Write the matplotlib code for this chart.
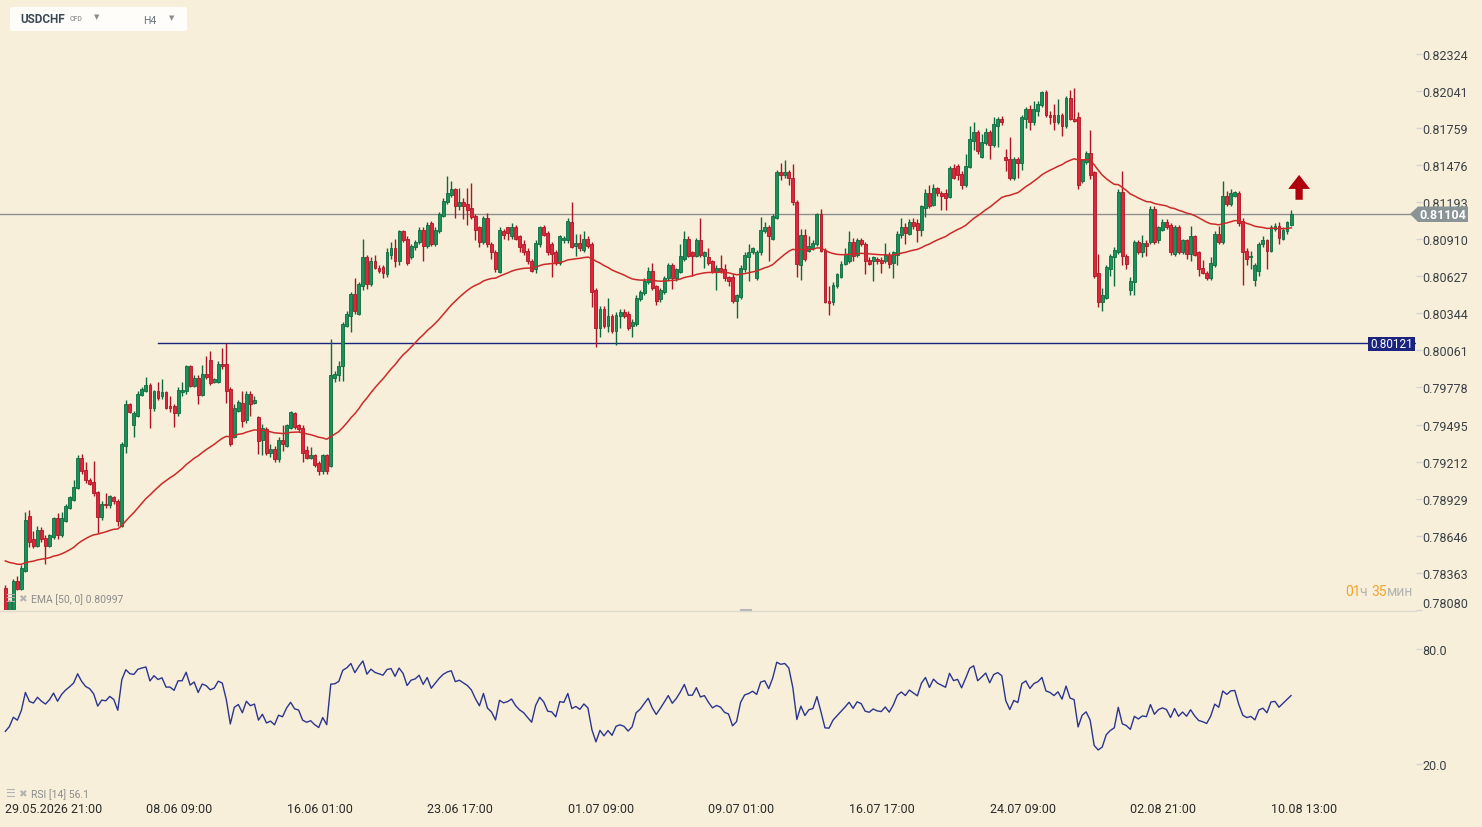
import numpy as np
import pandas as pd
import matplotlib
matplotlib.use('Agg')
import matplotlib.pyplot as plt
from matplotlib.patches import Polygon, Rectangle, FancyBboxPatch
from matplotlib.lines import Line2D

plt.rcParams['font.family'] = ['Roboto', 'DejaVu Sans']

# USDCHF H4 candles, prices in pips (1e-4)
open_p = [
    7825, 7808, 7809, 7830, 7824, 7838, 7880, 7862, 7857, 7869,
    7863, 7857, 7864, 7878, 7865, 7876, 7886, 7892, 7901, 7924,
    7915, 7907, 7906, 7898, 7879, 7889, 7888, 7894, 7891, 7872,
    7933, 7965, 7949, 7956, 7972, 7975, 7980, 7962, 7975, 7971,
    7974, 7964, 7964, 7958, 7974, 7975, 7994, 7979, 7985, 7972,
    7988, 7999, 7982, 7982, 7996, 7996, 7977, 7940, 7960, 7966,
    7953, 7973, 7966, 7955, 7938, 7946, 7928, 7931, 7923, 7938,
    7933, 7947, 7958, 7949, 7947, 7930, 7924, 7926, 7920, 7914,
    7926, 7918, 7985, 7987, 7994, 8025, 8032, 8049, 8034, 8055,
    8077, 8057, 8074, 8069, 8070, 8064, 8079, 8084, 8074, 8097,
    8091, 8077, 8085, 8089, 8098, 8086, 8103, 8087, 8097, 8109,
    8119, 8125, 8129, 8116, 8119, 8118, 8115, 8109, 8100, 8089,
    8107, 8087, 8081, 8066, 8097, 8100, 8093, 8100, 8093, 8087,
    8082, 8074, 8068, 8087, 8100, 8096, 8087, 8081, 8073, 8090,
    8090, 8104, 8086, 8088, 8083, 8091, 8087, 8052, 8023, 8038,
    8025, 8032, 8021, 8032, 8035, 8034, 8025, 8026, 8045, 8050,
    8058, 8067, 8055, 8045, 8051, 8061, 8071, 8061, 8066, 8076,
    8091, 8081, 8078, 8090, 8078, 8077, 8074, 8066, 8069, 8068,
    8062, 8062, 8044, 8047, 8068, 8077, 8081, 8061, 8081, 8097,
    8100, 8091, 8107, 8142, 8140, 8142, 8138, 8119, 8071, 8094,
    8082, 8084, 8087, 8110, 8083, 8044, 8043, 8055, 8062, 8072,
    8074, 8089, 8079, 8090, 8087, 8075, 8074, 8076, 8075, 8074,
    8079, 8073, 8079, 8094, 8100, 8095, 8104, 8103, 8098, 8115,
    8126, 8117, 8130, 8126, 8126, 8123, 8145, 8147, 8141, 8132,
    8146, 8166, 8173, 8154, 8164, 8173, 8163, 8177, 8183, 8154,
    8152, 8138, 8152, 8149, 8183, 8190, 8180, 8189, 8193, 8203,
    8186, 8186, 8180, 8186, 8177, 8199, 8183, 8184, 8135, 8150,
    8157, 8142, 8065, 8043, 8046, 8068, 8077, 8081, 8127, 8078,
    8052, 8058, 8089, 8081, 8088, 8089, 8114, 8090, 8098, 8104,
    8102, 8080, 8100, 8081, 8090, 8080, 8093, 8081, 8069, 8065,
    8061, 8071, 8095, 8089, 8124, 8118, 8124, 8126, 8105, 8082,
    8077, 8060, 8067, 8087, 8090, 8082, 8099, 8101, 8091, 8097, 8102,
]
high_p = [
    7827, 7816, 7832, 7834, 7842, 7883, 7884, 7868, 7872, 7871,
    7865, 7866, 7879, 7882, 7883, 7889, 7895, 7907, 7926, 7927,
    7921, 7909, 7922, 7899, 7891, 7897, 7896, 7895, 7893, 7936,
    7968, 7966, 7960, 7975, 7978, 7986, 7981, 7976, 7982, 7984,
    7975, 7971, 7965, 7978, 7982, 7995, 7995, 7987, 7987, 7995,
    8002, 8006, 7985, 7998, 8008, 8012, 7978, 7965, 7968, 7975,
    7975, 7975, 7971, 7956, 7950, 7948, 7935, 7933, 7940, 7949,
    7950, 7960, 7959, 7950, 7949, 7933, 7932, 7927, 7922, 7927,
    7927, 8015, 7990, 7998, 8028, 8036, 8051, 8061, 8058, 8091,
    8079, 8077, 8079, 8071, 8071, 8084, 8089, 8091, 8098, 8098,
    8093, 8087, 8090, 8100, 8100, 8104, 8105, 8100, 8112, 8122,
    8139, 8135, 8130, 8130, 8122, 8130, 8134, 8110, 8101, 8109,
    8111, 8089, 8083, 8100, 8099, 8100, 8103, 8102, 8094, 8090,
    8084, 8076, 8090, 8101, 8102, 8097, 8089, 8083, 8094, 8093,
    8107, 8119, 8095, 8095, 8097, 8093, 8089, 8054, 8040, 8040,
    8046, 8034, 8035, 8038, 8038, 8036, 8030, 8048, 8052, 8061,
    8070, 8073, 8056, 8054, 8063, 8073, 8073, 8069, 8087, 8097,
    8093, 8082, 8092, 8107, 8082, 8084, 8075, 8071, 8079, 8072,
    8063, 8064, 8049, 8071, 8081, 8087, 8085, 8083, 8108, 8104,
    8102, 8110, 8144, 8149, 8151, 8144, 8148, 8121, 8099, 8099,
    8093, 8090, 8111, 8114, 8084, 8055, 8058, 8065, 8074, 8084,
    8097, 8092, 8092, 8092, 8089, 8077, 8078, 8077, 8077, 8088,
    8081, 8082, 8097, 8107, 8103, 8106, 8107, 8106, 8117, 8129,
    8132, 8133, 8131, 8128, 8129, 8147, 8148, 8148, 8143, 8156,
    8177, 8180, 8174, 8171, 8176, 8174, 8184, 8184, 8185, 8160,
    8169, 8154, 8154, 8186, 8192, 8193, 8196, 8196, 8204, 8205,
    8189, 8194, 8198, 8187, 8200, 8205, 8206, 8188, 8152, 8158,
    8174, 8143, 8080, 8054, 8071, 8080, 8085, 8129, 8143, 8080,
    8062, 8090, 8090, 8094, 8090, 8116, 8116, 8101, 8106, 8106,
    8103, 8102, 8102, 8091, 8091, 8101, 8094, 8082, 8075, 8067,
    8077, 8097, 8101, 8135, 8128, 8129, 8128, 8128, 8107, 8084,
    8082, 8073, 8089, 8093, 8091, 8102, 8103, 8104, 8100, 8105, 8113,
]
low_p = [
    7806, 7807, 7808, 7823, 7823, 7837, 7856, 7855, 7856, 7860,
    7843, 7856, 7862, 7862, 7864, 7875, 7885, 7891, 7900, 7912,
    7905, 7903, 7895, 7867, 7877, 7886, 7886, 7889, 7872, 7871,
    7928, 7958, 7940, 7955, 7971, 7974, 7947, 7960, 7968, 7969,
    7961, 7959, 7948, 7956, 7971, 7973, 7978, 7978, 7965, 7971,
    7984, 7980, 7981, 7981, 7992, 7966, 7933, 7939, 7959, 7948,
    7951, 7956, 7965, 7927, 7926, 7926, 7925, 7921, 7921, 7929,
    7932, 7946, 7946, 7944, 7921, 7923, 7923, 7917, 7911, 7912,
    7912, 7917, 7982, 7983, 7983, 8024, 8020, 8034, 8033, 8052,
    8053, 8055, 8068, 8065, 8061, 8062, 8076, 8070, 8071, 8089,
    8071, 8076, 8083, 8087, 8074, 8084, 8086, 8086, 8096, 8108,
    8118, 8123, 8107, 8113, 8106, 8102, 8106, 8090, 8085, 8087,
    8085, 8076, 8066, 8065, 8091, 8090, 8091, 8090, 8081, 8079,
    8072, 8066, 8065, 8085, 8093, 8079, 8062, 8071, 8071, 8088,
    8088, 8084, 8078, 8082, 8081, 8084, 8039, 8009, 8016, 8023,
    8020, 8019, 8010, 8023, 8031, 8022, 8016, 8025, 8044, 8048,
    8057, 8052, 8041, 8043, 8049, 8059, 8053, 8059, 8065, 8074,
    8077, 8063, 8077, 8077, 8069, 8071, 8065, 8052, 8065, 8059,
    8055, 8042, 8031, 8045, 8066, 8059, 8080, 8060, 8079, 8096,
    8074, 8090, 8106, 8136, 8138, 8132, 8117, 8062, 8060, 8074,
    8081, 8083, 8086, 8081, 8042, 8033, 8041, 8054, 8061, 8071,
    8073, 8074, 8077, 8086, 8064, 8071, 8059, 8072, 8065, 8073,
    8069, 8061, 8071, 8092, 8087, 8094, 8099, 8089, 8093, 8108,
    8115, 8116, 8124, 8113, 8113, 8122, 8137, 8136, 8129, 8131,
    8145, 8159, 8156, 8153, 8163, 8152, 8161, 8161, 8178, 8143,
    8136, 8136, 8138, 8144, 8176, 8174, 8178, 8185, 8192, 8184,
    8179, 8174, 8179, 8170, 8176, 8182, 8180, 8129, 8134, 8148,
    8137, 8061, 8039, 8036, 8045, 8063, 8055, 8080, 8071, 8068,
    8048, 8048, 8080, 8077, 8078, 8087, 8087, 8088, 8097, 8099,
    8079, 8078, 8080, 8080, 8076, 8074, 8078, 8063, 8064, 8060,
    8060, 8070, 8087, 8087, 8116, 8116, 8123, 8101, 8056, 8071,
    8068, 8055, 8063, 8085, 8068, 8081, 8097, 8087, 8090, 8095, 8101,
]
close_p = [
    7808, 7815, 7830, 7824, 7840, 7877, 7860, 7857, 7869, 7862,
    7857, 7865, 7878, 7865, 7878, 7887, 7894, 7902, 7924, 7914,
    7907, 7904, 7897, 7879, 7889, 7888, 7895, 7891, 7876, 7935,
    7965, 7959, 7958, 7973, 7977, 7980, 7962, 7975, 7970, 7974,
    7962, 7962, 7958, 7976, 7976, 7994, 7979, 7985, 7972, 7988,
    7986, 7981, 7984, 7996, 7994, 7975, 7935, 7962, 7967, 7952,
    7973, 7965, 7968, 7937, 7947, 7928, 7931, 7923, 7938, 7935,
    7949, 7959, 7948, 7946, 7928, 7924, 7926, 7919, 7914, 7926,
    7914, 7987, 7988, 7994, 8026, 8034, 8049, 8036, 8057, 8077,
    8057, 8074, 8069, 8067, 8065, 8081, 8084, 8074, 8097, 8090,
    8073, 8086, 8089, 8098, 8086, 8102, 8087, 8098, 8110, 8120,
    8126, 8129, 8116, 8119, 8116, 8113, 8108, 8098, 8089, 8107,
    8087, 8081, 8068, 8098, 8094, 8096, 8100, 8091, 8085, 8081,
    8074, 8067, 8088, 8100, 8094, 8081, 8080, 8073, 8093, 8092,
    8105, 8085, 8088, 8084, 8091, 8086, 8051, 8023, 8038, 8025,
    8032, 8021, 8033, 8035, 8032, 8023, 8028, 8046, 8051, 8059,
    8067, 8054, 8044, 8052, 8061, 8071, 8061, 8068, 8078, 8091,
    8078, 8078, 8090, 8079, 8081, 8073, 8066, 8069, 8067, 8061,
    8059, 8044, 8048, 8069, 8079, 8081, 8084, 8081, 8098, 8100,
    8093, 8109, 8142, 8140, 8142, 8138, 8119, 8072, 8094, 8076,
    8086, 8088, 8110, 8082, 8043, 8042, 8056, 8064, 8072, 8080,
    8089, 8078, 8090, 8087, 8074, 8072, 8077, 8074, 8073, 8079,
    8072, 8081, 8095, 8100, 8096, 8104, 8101, 8098, 8116, 8126,
    8116, 8130, 8126, 8124, 8122, 8145, 8138, 8140, 8132, 8147,
    8167, 8173, 8158, 8165, 8173, 8163, 8179, 8183, 8180, 8151,
    8138, 8152, 8149, 8184, 8190, 8180, 8190, 8194, 8203, 8186,
    8184, 8180, 8186, 8177, 8199, 8183, 8181, 8132, 8151, 8157,
    8140, 8063, 8043, 8048, 8070, 8078, 8083, 8127, 8078, 8072,
    8059, 8089, 8081, 8088, 8086, 8114, 8089, 8100, 8104, 8100,
    8081, 8100, 8081, 8090, 8080, 8093, 8079, 8068, 8065, 8061,
    8073, 8095, 8089, 8124, 8118, 8126, 8127, 8103, 8081, 8076,
    8078, 8071, 8087, 8090, 8082, 8100, 8101, 8092, 8098, 8104, 8110.4,
]

date_idx = [0, 35, 70, 105, 140, 175, 210, 245, 280, 315]
date_lbl = ['29.05.2026 21:00', '08.06 09:00', '16.06 01:00', '23.06 17:00',
            '01.07 09:00', '09.07 01:00', '16.07 17:00', '24.07 09:00',
            '02.08 21:00', '10.08 13:00']
price_ticks = [0.82324, 0.82041, 0.81759, 0.81476, 0.81193, 0.80910, 0.80627,
               0.80344, 0.80061, 0.79778, 0.79495, 0.79212, 0.78929, 0.78646,
               0.78363, 0.78080]
rsi_ticks = [20.0, 80.0]
ema_start = 0.7847
rsi_start_gain = 0.00050   # average gain/loss carried in from before the window
rsi_start_loss = 0.00085
last_price = 0.81104
level = 0.80121
level_from = 38

o = np.array(open_p) / 1e4
h = np.array(high_p) / 1e4
l = np.array(low_p) / 1e4
c = np.array(close_p) / 1e4
n = len(c)
x = np.arange(n)

# EMA 50
k = 2.0 / 51
ema = np.empty(n)
prev = ema_start
for i in range(n):
    prev = prev + k * (c[i] - prev)
    ema[i] = prev

# RSI 14 (Wilder)
d = np.diff(c, prepend=c[0])
gain = np.clip(d, 0, None)
loss = np.clip(-d, 0, None)
ag, al = rsi_start_gain, rsi_start_loss
rsi = np.empty(n)
for i in range(n):
    if i > 0:
        ag = (ag * 13 + gain[i]) / 14
        al = (al * 13 + loss[i]) / 14
    rsi[i] = 100 - 100 / (1 + ag / al)

BG = '#f7efd9'
GREEN, GREEN_E = '#17935a', '#0d6a3d'
RED, RED_E = '#e2253a', '#ad1424'
W, H = 1482, 828
XL = (-5.3 / 4.018, (1416 - 5.3) / 4.018)


def fx(px):
    return px / W


def fy(py):
    return 1 - py / H


fig = plt.figure(figsize=(W / 100, H / 100), dpi=100, facecolor=BG)

ax = fig.add_axes([0, fy(611), fx(1416), 611 / H])
ax.set_facecolor(BG)
ax.set_xlim(*XL)
ax.set_ylim(0.78080, 0.82742)

up = c >= o
fill = np.where(up, GREEN, RED)
edge = np.where(up, GREEN_E, RED_E)
ax.vlines(x, l, h, colors=edge, lw=1.0, zorder=2)
ax.bar(x, np.maximum(np.abs(c - o), 0.000012), bottom=np.minimum(o, c),
       width=0.72, color=fill, edgecolor=edge, linewidth=0.6, zorder=3)
ax.plot(x, ema, color='#cc2a2a', lw=1.1, zorder=4)
ax.axhline(last_price, color='#8f8f8f', lw=1, zorder=1)
ax.plot([level_from, XL[1]], [level, level], color='#1a237e', lw=1, zorder=1)

# up arrow
cx = 322
ax.add_patch(Polygon([(cx, 0.8140), (cx + 2.7, 0.81293), (cx + 0.9, 0.81293),
                      (cx + 0.9, 0.8121), (cx - 0.9, 0.8121), (cx - 0.9, 0.81293),
                      (cx - 2.7, 0.81293)], closed=True, fc='#b0000e', ec='none', zorder=5))

ax.yaxis.tick_right()
ax.set_yticks(price_ticks, [f'{v:.5f}' for v in price_ticks])
ax.set_xticks([])
ax.tick_params(axis='y', direction='out', length=4, width=1, color='#d4d4d4',
               pad=0.5, labelsize=9, labelcolor='#3a4046')
ax.get_yticklabels()[-1].set_va('bottom')
for s in ax.spines.values():
    s.set_visible(False)

# RSI panel
rax = fig.add_axes([0, fy(803.3), fx(1416), (803.3 - 611.7) / H])
rax.set_facecolor(BG)
rax.set_xlim(*XL)
rax.set_ylim(0, 100)
rax.plot(x, rsi, color='#2b3590', lw=1.0)
rax.yaxis.tick_right()
rax.set_yticks(rsi_ticks, [f'{v:.1f}' for v in rsi_ticks])
rax.set_xticks(date_idx, date_lbl)
rax.tick_params(axis='y', direction='out', length=4, width=1, color='#d4d4d4',
                pad=0.5, labelsize=9, labelcolor='#3a4046')
rax.tick_params(axis='x', direction='out', length=0, pad=0,
                labelsize=9, labelcolor='#2b2b2b')
for lab in rax.get_xticklabels():
    lab.set_ha('left')
for s in rax.spines.values():
    s.set_visible(False)

# panel separator
fig.add_artist(Line2D([0, fx(1416)], [fy(611.5), fy(611.5)], color='#dddad2', lw=1))
fig.add_artist(Line2D([fx(741), fx(751)], [fy(610.5), fy(610.5)], color='#b8b8b8', lw=1.5))

# price labels on the right
fig.add_artist(Polygon([(fx(1410), fy(215)), (fx(1418), fy(207.5)), (fx(1468), fy(207.5)),
                        (fx(1468), fy(223)), (fx(1418), fy(223))], closed=True,
                       fc='#8a9396', ec='none', transform=fig.transFigure))
fig.text(fx(1443), fy(215.5), '0.81104', color='white', fontsize=9, fontweight='bold',
         ha='center', va='center')
fig.add_artist(Rectangle((fx(1368), fy(352)), fx(47), 14 / H, fc='#1a237e', ec='none',
                         transform=fig.transFigure))
fig.text(fx(1391.5), fy(345), '0.80121', color='white', fontsize=8.5, ha='center', va='center')

# header box
fig.add_artist(FancyBboxPatch((fx(10), fy(32)), fx(177), 24 / H,
                              boxstyle='round,pad=0,rounding_size=0.002',
                              fc='#fefdf9', ec='none', transform=fig.transFigure))
fig.text(fx(20), fy(19.5), 'USDCHF', fontsize=8.5, fontweight='bold', color='#3d4a55', va='center')
fig.text(fx(70), fy(19), 'CFD', fontsize=5, fontweight='bold', color='#a0a0a0', va='center')
fig.text(fx(97), fy(17.5), '▼', fontsize=5, color='#8a8a8a', ha='center', va='center',
         family='DejaVu Sans')
fig.text(fx(143), fy(20.5), 'H4', fontsize=7.5, color='#6a737a', va='center')
fig.text(fx(172), fy(18.5), '▼', fontsize=5, color='#8a8a8a', ha='center', va='center',
         family='DejaVu Sans')

# indicator captions
for yy, txt in [(600, 'EMA [50, 0] 0.80997'), (795, 'RSI [14] 56.1')]:
    fig.text(fx(5), fy(yy - 1), '☰', fontsize=8, color='#b3b3b3', va='center', family='DejaVu Sans')
    fig.text(fx(18), fy(yy - 1), '✖', fontsize=7.5, color='#b3b3b3', va='center', family='DejaVu Sans')
    fig.text(fx(31), fy(yy), txt, fontsize=7.5, color='#8c8c8c', va='center')

# countdown to candle close
prev_t = fig.text(fx(1345), fy(592), '01', fontsize=10, color='#f5a32a', va='center')
for part, col in [('ч ', '#b4b4b4'), ('35', '#f5a32a'), ('мин', '#b4b4b4')]:
    prev_t = ax.annotate(part, xy=(1, 0), xycoords=prev_t, fontsize=10, color=col,
                         va='bottom', ha='left', annotation_clip=False)

fig.savefig('out.png', dpi=100, facecolor=BG)
